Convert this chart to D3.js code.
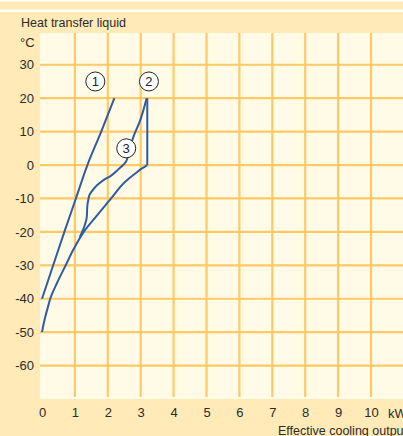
<!DOCTYPE html>
<html lang="en">
<head>
    <meta charset="utf-8">
    <title>Heat transfer liquid</title>
    <script type="text/javascript" src="https://cdn.jsdelivr.net/npm/d3@7"></script>
    <style type="text/css">
        body { margin: 0; }
        svg { display: block; font-family: "Liberation Sans", Arial, sans-serif; }
    </style>
</head>
<body>
    <script type="text/javascript">
        // Width and height
        var w = 403;
        var h = 436;

        // Tick values
        var xTicks = [0, 1, 2, 3, 4, 5, 6, 7, 8, 9, 10];
        var yTicks = [30, 20, 10, 0, -10, -20, -30, -40, -50, -60];

        // Curves: temperature (°C) and effective cooling output (kW)
        var temp1 = [-40, -30, -20, -10, 0, 10, 20];
        var kw1   = [0, 0.34, 0.68, 1.03, 1.38, 1.8, 2.2];

        var temp2 = [-50, -47.5, -45, -42.5, -40, -35, -30, -25, -20, -15, -10, -5, -2.5, -1, 0, 20];
        var kw2   = [0, 0.05, 0.11, 0.18, 0.25, 0.47, 0.72, 0.97, 1.27, 1.68, 2.1, 2.53, 2.84, 3.04, 3.2, 3.2];

        var temp3 = [-21.5, -18, -15.7, -12, -10.3, -9, -7.8, -6, -4.5, -3.4, -1.3, 1, 3, 6, 9, 13, 20];
        var kw3   = [1.15, 1.3, 1.36, 1.38, 1.41, 1.44, 1.52, 1.68, 1.87, 2.07, 2.32, 2.55, 2.62, 2.7, 2.8, 2.97, 3.18];

        // Curve labels: [number, kW, °C]
        var labels = [["1", 1.62, 25], ["2", 3.25, 25], ["3", 2.56, 5]];

        var x = d3.scaleLinear().domain([0, 11]).range([42, 403.9]);
        var y = d3.scaleLinear().domain([-70, 39.5]).range([399, 33]);

        var svg = d3.select("body")
            .append("svg")
            .attr("width", w)
            .attr("height", h);

        // Backgrounds
        svg.append("rect").attr("width", w).attr("height", h).attr("fill", "#ffeab8");
        svg.append("rect").attr("y", 0).attr("width", w).attr("height", 1.5).attr("fill", "#fff");
        svg.append("rect").attr("y", 9.5).attr("width", w).attr("height", 2.5).attr("fill", "#fff");
        svg.append("rect").attr("x", 40).attr("y", 33).attr("width", w - 40).attr("height", 366).attr("fill", "#fffbe7");

        // Grid
        svg.append("g").selectAll("line")
            .data(yTicks)
            .enter()
            .append("line")
            .attr("x1", 40).attr("x2", w)
            .attr("y1", function(d) { return y(d); })
            .attr("y2", function(d) { return y(d); })
            .style("stroke", "#ffc965").style("stroke-width", 2.2);

        svg.append("g").selectAll("line")
            .data(xTicks.slice(1))
            .enter()
            .append("line")
            .attr("x1", function(d) { return x(d); })
            .attr("x2", function(d) { return x(d); })
            .attr("y1", 33).attr("y2", 397)
            .style("stroke", "#ffc965").style("stroke-width", 2.2);

        // Axes (labels only), plain hyphen for negatives
        var fmt = function(d) { return String(d); };
        var yAxis = svg.append("g")
            .attr("transform", "translate(40,0)")
            .call(d3.axisLeft(y).tickValues(yTicks).tickSize(0).tickPadding(6).tickFormat(fmt));
        var xAxis = svg.append("g")
            .attr("transform", "translate(0,405)")
            .call(d3.axisBottom(x).tickValues(xTicks).tickSize(0).tickPadding(3).tickFormat(fmt));
        [yAxis, xAxis].forEach(function(a) {
            a.select(".domain").remove();
            a.selectAll("text")
                .style("font-size", "13px")
                .style("font-family", "'Liberation Sans', Arial, sans-serif")
                .style("fill", "#2b2b2b");
        });

        // Texts
        svg.append("text").attr("x", 21).attr("y", 26.5).text("Heat transfer liquid")
            .style("font-size", "12.5px").style("fill", "#2b2b2b");
        svg.append("text").attr("x", 20).attr("y", 46.5).text("°C")
            .style("font-size", "13px").style("fill", "#2b2b2b");
        svg.append("text").attr("x", 388).attr("y", 418).text("kW")
            .style("font-size", "13px").style("fill", "#2b2b2b");
        svg.append("text").attr("x", 278).attr("y", 435).text("Effective cooling output")
            .style("font-size", "12.5px").style("fill", "#2b2b2b");

        // Curves
        var line = d3.line()
            .x(function(d) { return x(d[0]); })
            .y(function(d) { return y(d[1]); });

        function drawPath(pts, curve) {
            svg.append("path")
                .datum(pts)
                .attr("d", line.curve(curve))
                .style("fill", "none")
                .style("stroke", "#2f5ba6")
                .style("stroke-width", 2)
                .style("stroke-linejoin", "round");
        }

        var pts1 = temp1.map(function(t, i) { return [kw1[i], t]; });
        var pts2 = temp2.map(function(t, i) { return [kw2[i], t]; });
        var pts3 = temp3.map(function(t, i) { return [kw3[i], t]; });

        drawPath(pts1, d3.curveMonotoneY);
        // curve 2 is smooth up to the sharp corner at 0 °C, then vertical
        var corner = temp2.indexOf(0);
        drawPath(pts2.slice(0, corner + 1), d3.curveMonotoneY);
        drawPath(pts2.slice(corner), d3.curveLinear);
        drawPath(pts3, d3.curveMonotoneY);

        // Curve number labels
        var lab = svg.append("g").selectAll("g")
            .data(labels)
            .enter()
            .append("g")
            .attr("transform", function(d) { return "translate(" + x(d[1]) + "," + y(d[2]) + ")"; });
        lab.append("circle").attr("r", 9.5)
            .style("fill", "#fff").style("stroke", "#222").style("stroke-width", 1);
        lab.append("text")
            .attr("text-anchor", "middle")
            .attr("dy", "0.36em")
            .text(function(d) { return d[0]; })
            .style("font-size", "13px").style("fill", "#222");
    </script>
</body>
</html>
